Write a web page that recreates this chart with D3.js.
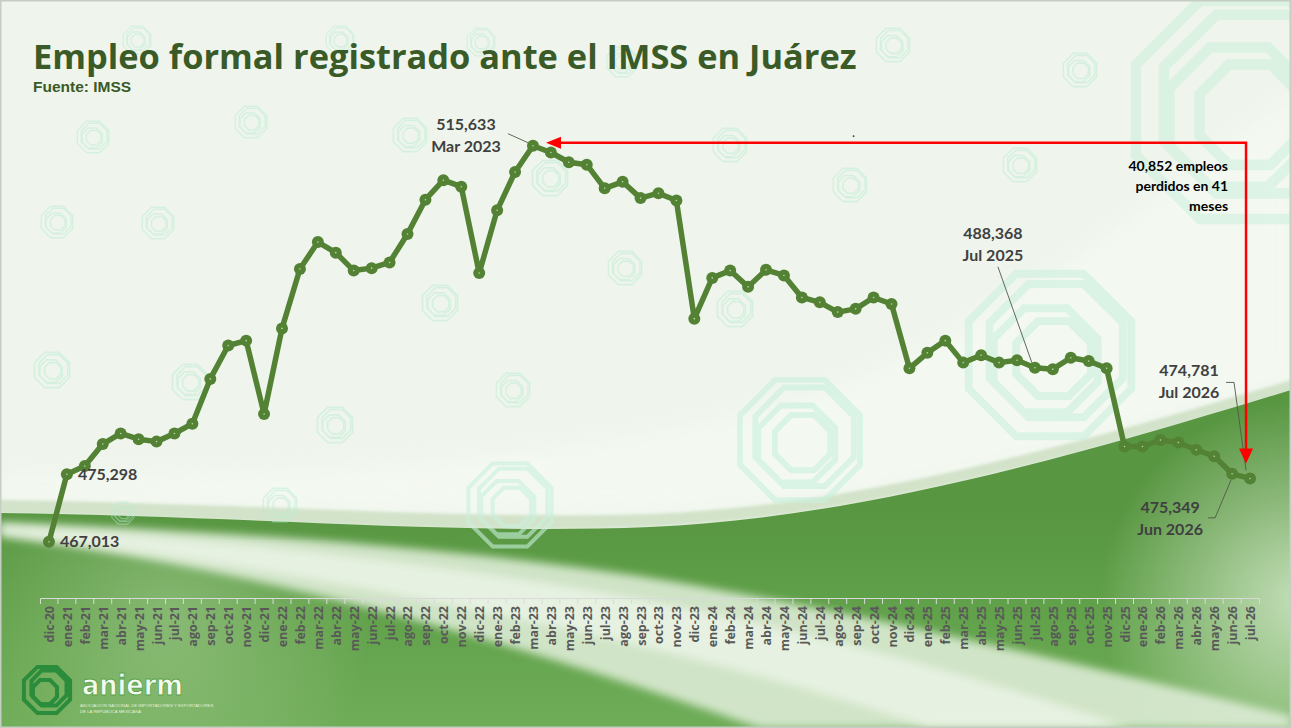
<!DOCTYPE html>
<html lang="es">
<head>
<meta charset="UTF-8">
<title>Empleo formal registrado ante el IMSS en Juárez</title>
<script src="https://d3js.org/d3.v7.min.js"></script>
<style>
    html, body { margin: 0; padding: 0; background: #eef5ea; }
    svg { display: block; }
    .title { font-family: "Open Sans", sans-serif; font-weight: 700; fill: #3a5a27; }
    .source { font-family: "Liberation Sans", Arial, sans-serif; font-weight: 700; fill: #3a5a27; }
    .lbl { font-family: Lato, sans-serif; font-weight: 700; font-size: 16px; fill: #404040; }
    .note { font-family: Lato, sans-serif; font-weight: 700; font-size: 14px; fill: #000; }
    .x-axis text { font-family: "Open Sans", sans-serif; font-weight: 700; font-size: 12.5px; fill: #595959; }
    .x-axis path, .x-axis line { stroke: #d9d9d9; }
</style>
</head>
<body>
<svg id="chart"></svg>
<script>
// data
const meses = [
    "dic-20",
    "ene-21","feb-21","mar-21","abr-21","may-21","jun-21","jul-21","ago-21","sep-21","oct-21","nov-21","dic-21",
    "ene-22","feb-22","mar-22","abr-22","may-22","jun-22","jul-22","ago-22","sep-22","oct-22","nov-22","dic-22",
    "ene-23","feb-23","mar-23","abr-23","may-23","jun-23","jul-23","ago-23","sep-23","oct-23","nov-23","dic-23",
    "ene-24","feb-24","mar-24","abr-24","may-24","jun-24","jul-24","ago-24","sep-24","oct-24","nov-24","dic-24",
    "ene-25","feb-25","mar-25","abr-25","may-25","jun-25","jul-25","ago-25","sep-25","oct-25","nov-25","dic-25",
    "ene-26","feb-26","mar-26","abr-26","may-26","jun-26","jul-26"
];
const empleo = [
    467013,
    475298, 476300, 479000, 480300, 479600, 479300, 480300, 481500, 487000, 491100, 491700, 482700,
    493200, 500500, 503800, 502500, 500300, 500600, 501300, 504800, 509000, 511400, 510600, 500000,
    507700, 512400, 515633, 514800, 513600, 513300, 510400, 511200, 509200, 509800, 508900, 494400,
    499400, 500300, 498300, 500400, 499700, 497000, 496400, 495200, 495600, 497000, 496200, 488300,
    490200, 491700, 489000, 489900, 489000, 489300, 488368, 488200, 489600, 489200, 488300, 478700,
    478700, 479500, 479200, 478300, 477500, 475349, 474781
];
// labelled points: [month, first line, second line]
const etiquetas = [
    ["dic-20", "467,013", ""],
    ["ene-21", "475,298", ""],
    ["mar-23", "515,633", "Mar 2023"],
    ["jul-25", "488,368", "Jul 2025"],
    ["jul-26", "474,781", "Jul 2026"],
    ["jun-26", "475,349", "Jun 2026"]
];
const titulo = "Empleo formal registrado ante el IMSS en Juárez";
const fuente = "Fuente: IMSS";
const nota = ["40,852 empleos", "perdidos en 41", "meses"];

const W = 1291, H = 728;
const svg = d3.select("#chart").attr("width", W).attr("height", H);
const defs = svg.append("defs");

// ---------- background ----------
const gGreen = defs.append("linearGradient").attr("id", "gGreen")
    .attr("gradientUnits", "userSpaceOnUse").attr("x1", 0).attr("y1", 510).attr("x2", 0).attr("y2", 728);
gGreen.append("stop").attr("offset", 0).attr("stop-color", "#589641");
gGreen.append("stop").attr("offset", 0.5).attr("stop-color", "#62a24b");
gGreen.append("stop").attr("offset", 1).attr("stop-color", "#70ad59");

const gRight = defs.append("radialGradient").attr("id", "gRight")
    .attr("gradientUnits", "userSpaceOnUse").attr("cx", 1300).attr("cy", 600).attr("r", 200);
gRight.append("stop").attr("offset", 0).attr("stop-color", "#dcedd3").attr("stop-opacity", 0.8);
gRight.append("stop").attr("offset", 1).attr("stop-color", "#dcedd3").attr("stop-opacity", 0);

const gLeft = defs.append("radialGradient").attr("id", "gLeft")
    .attr("gradientUnits", "userSpaceOnUse").attr("cx", 170).attr("cy", 620).attr("r", 200);
gLeft.append("stop").attr("offset", 0).attr("stop-color", "#bfdcaf").attr("stop-opacity", 0.4);
gLeft.append("stop").attr("offset", 1).attr("stop-color", "#bfdcaf").attr("stop-opacity", 0);

const blur = defs.append("filter").attr("id", "soft").attr("x", "-10%").attr("y", "-10%").attr("width", "120%").attr("height", "120%");
blur.append("feGaussianBlur").attr("stdDeviation", 4);
const blur2 = defs.append("filter").attr("id", "soft2");
blur2.append("feGaussianBlur").attr("stdDeviation", 1.5);
const blur3 = defs.append("filter").attr("id", "soft3").attr("x", "-10%").attr("y", "-20%").attr("width", "120%").attr("height", "140%");
blur3.append("feGaussianBlur").attr("stdDeviation", 10);

const bg = svg.append("g");
bg.append("rect").attr("width", W).attr("height", H).attr("fill", "#eff5ec");

// faint pale swoosh in the upper right
bg.append("path")
    .attr("d", "M0,475 C300,477 600,460 800,400 C1000,335 1150,205 1291,95 L1291,380 C1050,452 850,505 650,511 C450,517 250,502 0,499 Z")
    .attr("fill", "#f6faf4").attr("opacity", 0.7).attr("filter", "url(#soft3)");

// thin grey-green band above the green
bg.append("path")
    .attr("d", "M0,500 C250,503 450,520 650,514 C850,506 1050,452 1291,380 L1291,392 C1050,464 850,518 650,527 C450,536 250,517 0,514 Z")
    .attr("fill", "#d3e3ca").attr("filter", "url(#soft2)");

// green mass
bg.append("path")
    .attr("d", "M0,513 C250,516 450,535 650,527 C850,518 1050,464 1291,390 L1291,728 L0,728 Z")
    .attr("fill", "url(#gGreen)");
bg.append("rect").attr("y", 390).attr("width", W).attr("height", 338).attr("fill", "url(#gRight)");
bg.append("rect").attr("y", 540).attr("width", W).attr("height", 188).attr("fill", "url(#gLeft)");

// light diagonal swoosh at the bottom
bg.append("path")
    .attr("d", "M0,522 C250,532 520,552 720,590 C900,622 1100,668 1291,716 L1291,728 L760,728 C620,680 330,578 0,537 Z")
    .attr("fill", "#dcebd4").attr("opacity", 0.9).attr("filter", "url(#soft)");
bg.append("path")
    .attr("d", "M0,527 C250,540 520,572 720,615 C880,650 1020,690 1130,728 L930,728 C780,675 450,590 0,532 Z")
    .attr("fill", "#eef6ea").attr("opacity", 0.75).attr("filter", "url(#soft)");

// watermark logos
function octagon(r) {
    return d3.range(8).map(i => {
        const a = Math.PI / 8 + i * Math.PI / 4;
        return [r * Math.cos(a), r * Math.sin(a)];
    });
}
function watermark(cx, cy, r, op, colour) {
    const g = bg.append("g").attr("transform", `translate(${cx},${cy})`).attr("opacity", op);
    const line = d3.line().curve(d3.curveLinearClosed);
    [[1, 0, 0], [0.82, r * 0.07, -r * 0.05], [0.64, -r * 0.05, r * 0.06], [0.46, r * 0.04, r * 0.04]].forEach(([k, dx, dy]) => {
        g.append("path")
            .attr("d", line(octagon(r * k).map(p => [p[0] + dx, p[1] + dy])))
            .attr("fill", "none")
            .attr("stroke", colour)
            .attr("stroke-width", Math.max(1.2, r * 0.09));
    });
}
const marks = [
    [93, 137, 17], [251, 122, 17], [410, 135, 18], [730, 145, 18], [893, 45, 18], [1080, 70, 18],
    [1020, 165, 18], [850, 185, 18], [550, 178, 19], [57, 222, 17], [158, 223, 17], [625, 268, 18],
    [440, 303, 19], [735, 309, 19], [52, 370, 19], [190, 382, 19], [335, 425, 19], [513, 390, 18],
    [280, 505, 18], [123, 513, 12], [137, 40, 15], [340, 40, 15], [481, 42, 15], [622, 62, 16]
];
marks.forEach(m => watermark(m[0], m[1], m[2], 0.45, "#b9ecd2"));
watermark(510, 505, 45, 0.6, "#c8f0dc");
watermark(800, 440, 65, 0.6, "#c8f0dc");
watermark(1050, 355, 88, 0.55, "#c8f0dc");
watermark(1245, 110, 118, 0.5, "#c8f0dc");

// border
svg.append("rect").attr("x", 0.75).attr("y", 0.75).attr("width", W - 1.5).attr("height", H - 1.5)
    .attr("fill", "none").attr("stroke", "#c6cec4").attr("stroke-width", 1.5);

// ---------- ANIERM logo ----------
const logo = svg.append("g").attr("transform", "translate(47,690)");
const lline = d3.line().curve(d3.curveLinearClosed);
[[25, 0, 0], [19, 2, -2], [13, -2, 2]].forEach(([r, dx, dy]) => {
    logo.append("path")
        .attr("d", lline(octagon(r).map(p => [p[0] + dx, p[1] + dy])))
        .attr("fill", "none").attr("stroke", "#2b8c3c").attr("stroke-width", 4);
});
svg.append("text").attr("x", 82).attr("y", 695)
    .attr("font-family", "DejaVu Sans, sans-serif").attr("font-size", 29).attr("font-weight", 700)
    .attr("textLength", 101).attr("lengthAdjust", "spacingAndGlyphs")
    .attr("fill", "#f3faf0").attr("stroke", "#5aa347").attr("stroke-width", 0.9)
    .text("anierm");
svg.append("text").attr("x", 80).attr("y", 707).attr("font-family", "Liberation Sans, sans-serif")
    .attr("font-size", 4.3).attr("fill", "#e2f0dc").text("ASOCIACIÓN NACIONAL DE IMPORTADORES Y EXPORTADORES");
svg.append("text").attr("x", 80).attr("y", 713).attr("font-family", "Liberation Sans, sans-serif")
    .attr("font-size", 4.3).attr("fill", "#e2f0dc").text("DE LA REPÚBLICA MEXICANA");

// ---------- titles ----------
const t = svg.append("text").attr("class", "title").attr("x", 33).attr("y", 69)
    .attr("font-size", 29).text(titulo);
const tw = t.node().getComputedTextLength();
if (tw > 0) t.attr("font-size", 29 * 824 / tw);
svg.append("text").attr("class", "source").attr("x", 33).attr("y", 92)
    .attr("font-size", 15.5).text(fuente);

// ---------- scales ----------
const x = d3.scalePoint().domain(meses).range([40, 1259]).padding(0.5);
const y = d3.scaleLinear().domain([467013, 515633]).range([541.7, 145.7]);
const data = meses.map((m, i) => ({ mes: m, v: empleo[i] }));

// x axis
const axis = svg.append("g").attr("class", "x-axis").attr("transform", "translate(0,598)")
    .call(d3.axisBottom(x).tickSize(0).tickSizeOuter(6));
axis.selectAll(".tick text")
    .attr("transform", "rotate(-90)")
    .attr("text-anchor", "end")
    .attr("x", -8)
    .attr("y", 0)
    .attr("dy", "0.36em");
// tick marks between categories
axis.selectAll(".sep").data(meses.slice(1)).enter().append("line")
    .attr("class", "sep")
    .attr("x1", d => x(d) - x.step() / 2).attr("x2", d => x(d) - x.step() / 2)
    .attr("y1", 0).attr("y2", 6);

// line + markers
svg.append("path").datum(data)
    .attr("fill", "none").attr("stroke", "#548235").attr("stroke-width", 5.5)
    .attr("stroke-linejoin", "round").attr("stroke-linecap", "round")
    .attr("d", d3.line().x(d => x(d.mes)).y(d => y(d.v)));
svg.selectAll(".dot").data(data).enter().append("circle")
    .attr("class", "dot").attr("cx", d => x(d.mes)).attr("cy", d => y(d.v))
    .attr("r", 6).attr("fill", "#548235");
svg.selectAll(".dotc").data(data).enter().append("circle")
    .attr("class", "dotc").attr("cx", d => x(d.mes)).attr("cy", d => y(d.v))
    .attr("r", 0.8).attr("fill", "#b8d8a4");

// ---------- data labels ----------
const val = m => empleo[meses.indexOf(m)];
const px = m => x(m), py = m => y(val(m));
const leader = d3.line();
const lead = pts => svg.append("path").attr("d", leader(pts))
    .attr("fill", "none").attr("stroke", "#4f5a45").attr("stroke-width", 0.9);

// single-line labels to the right of the point
etiquetas.filter(e => e[2] === "").forEach(e => {
    svg.append("text").attr("class", "lbl")
        .attr("x", px(e[0]) + 11).attr("y", py(e[0])).attr("dy", "0.36em").text(e[1]);
});

// two-line labels with leader lines
const offsets = {
    "mar-23": { dx: -67, dy: -21, line: [[-25, -12], [-5, -3]] },
    "jul-25": { dx: -42, dy: -135, line: [[-37, -101], [-3, -5]] },
    "jul-26": { dx: -61, dy: -108, line: [[-24, -96], [-16, -96], [-4, -8]] },
    "jun-26": { dx: -62, dy: 33, line: [[-24, 44], [-17, 44], [-1, 6]] }
};
etiquetas.filter(e => e[2] !== "").forEach(e => {
    const o = offsets[e[0]];
    const cx = px(e[0]), cy = py(e[0]);
    svg.append("text").attr("class", "lbl").attr("text-anchor", "middle")
        .attr("x", cx + o.dx).attr("y", cy + o.dy).attr("dy", "0.36em").text(e[1]);
    svg.append("text").attr("class", "lbl").attr("text-anchor", "middle")
        .attr("x", cx + o.dx).attr("y", cy + o.dy + 22).attr("dy", "0.36em").text(e[2]);
    lead(o.line.map(p => [cx + p[0], cy + p[1]]));
});

// ---------- red bracket ----------
const topY = y(515633) - 3;
const leftX = x("mar-23") + 13;
const rightX = x("jul-26") - 4;
const bottomY = y(474781) - 15;
svg.append("path")
    .attr("d", `M${leftX + 12},${topY} L${rightX},${topY} L${rightX},${bottomY - 12}`)
    .attr("fill", "none").attr("stroke", "#ff0000").attr("stroke-width", 2.5);
svg.append("path")
    .attr("d", `M${leftX},${topY} L${leftX + 15},${topY - 6} L${leftX + 15},${topY + 6} Z`)
    .attr("fill", "#ff0000");
svg.append("path")
    .attr("d", `M${rightX},${bottomY} L${rightX - 7},${bottomY - 15} L${rightX + 7},${bottomY - 15} Z`)
    .attr("fill", "#ff0000");
nota.forEach((s, i) => {
    svg.append("text").attr("class", "note").attr("text-anchor", "end")
        .attr("x", rightX - 18).attr("y", 166 + i * 20).attr("dy", "0.36em").text(s);
});
svg.append("text").attr("x", 852).attr("y", 137)
    .attr("font-family", "Lato, sans-serif").attr("font-size", 13).attr("fill", "#333").text(".");
</script>
</body>
</html>
